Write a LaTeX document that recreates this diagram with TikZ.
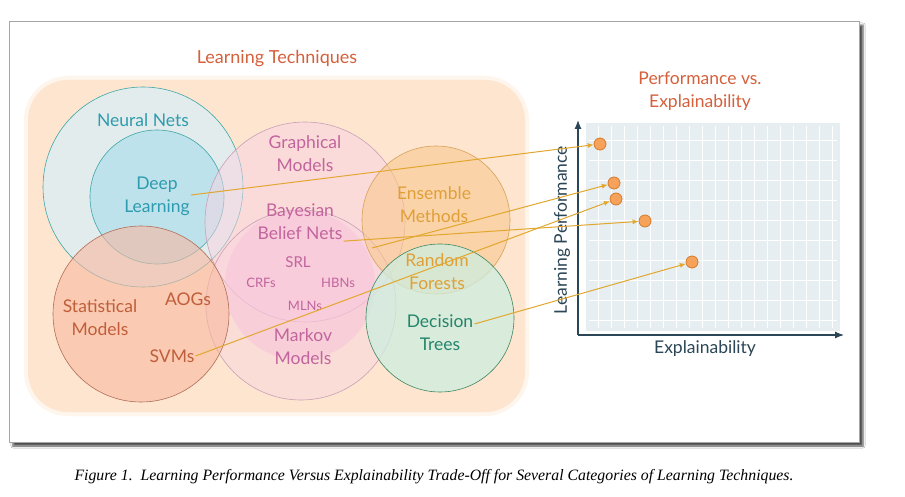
\documentclass[tikz,border=0pt]{standalone}
\usepackage{fontspec}
\setmainfont{Lato}
\newfontfamily\capfont{Liberation Serif}
\usepackage{tikz}
\usetikzlibrary{positioning,arrows.meta,shadows.blur}

\definecolor{peach}{HTML}{FDE5CF}
\definecolor{nnfill}{HTML}{DCEEF4}
\definecolor{nnedge}{HTML}{3FA6A8}
\definecolor{dlfill}{HTML}{AEDFEB}
\definecolor{nntext}{HTML}{2E9BAE}
\definecolor{gmfill}{HTML}{FAD3E4}
\definecolor{gmblob}{HTML}{F6BFDA}
\definecolor{gmedge}{HTML}{C9A0B6}
\definecolor{gmtext}{HTML}{C2649E}
\definecolor{smfill}{HTML}{F8B8A0}
\definecolor{smedge}{HTML}{B06E58}
\definecolor{smtext}{HTML}{C05E3A}
\definecolor{emfill}{HTML}{F9C88E}
\definecolor{emedge}{HTML}{D6A15A}
\definecolor{emtext}{HTML}{E0A038}
\definecolor{dtfill}{HTML}{CDEEE0}
\definecolor{dtedge}{HTML}{3E8660}
\definecolor{dttext}{HTML}{23866C}
\definecolor{titlered}{HTML}{D5603C}
\definecolor{axisblue}{HTML}{2B4656}
\definecolor{gridfill}{HTML}{E6EEF2}
\definecolor{linkgold}{HTML}{E2A72E}
\definecolor{dotfill}{HTML}{F6A25A}
\definecolor{dotedge}{HTML}{D47A2C}

\begin{document}
\begin{tikzpicture}[
  x=1pt, y=-1pt,
  set/.style={
    circle, draw, line width=0.6pt, inner sep=0pt, fill opacity=0.6
  },
  lab/.style={
    font=\fontsize{17.5}{23}\selectfont, align=center, inner sep=1pt
  },
  small/.style={font=\fontsize{13}{15}\selectfont, inner sep=1pt},
  dot/.style={
    circle, draw=dotedge, fill=dotfill, line width=0.8pt,
    minimum size=12pt, inner sep=0pt
  },
  link/.style={-{Latex[length=6pt,width=5pt]}, draw=linkgold, line width=1pt},
  axis/.style={-{Latex[length=9pt,width=7pt]}, draw=axisblue, line width=1.2pt}
]
\useasboundingbox (0,0) rectangle (905,497);
\fill[white] (0,0) rectangle (905,497);

% Frame
\filldraw[fill=white, draw=gray!70, line width=0.8pt,
  blur shadow={shadow xshift=4pt, shadow yshift=-4pt, shadow opacity=70}]
  (9,21) rectangle (859,442);

% Learning techniques
\fill[peach!40, rounded corners=44pt] (24,76) rectangle (529,416);
\fill[peach, rounded corners=40pt] (28,80) rectangle (525,412);
\node[font=\fontsize{18}{20}\selectfont, text=titlered] (lt) at (277,59) {Learning Techniques};

\node[set, fill=nnfill, draw=nnedge, fill opacity=0.8, minimum size=200pt] (nnc) at (143,187) {};
\node[set, fill=dlfill, draw=nnedge, fill opacity=0.7, minimum size=134pt] (dlc) at (157,197) {};
\node[set, fill=gmfill, draw=gmedge, fill opacity=0.5, minimum size=200pt] (gmc) at (305,222) {};
\node[set, fill=gmfill, draw=gmedge, fill opacity=0.4, minimum size=190pt] (mmc) at (301,305) {};
\node[circle, fill=gmblob, fill opacity=0.45, minimum size=150pt] (blob) at (300,285) {};
\node[set, fill=smfill, draw=smedge, minimum size=176pt] (smc) at (141,314) {};
\node[set, fill=emfill, draw=emedge, minimum size=148pt] (emc) at (436,220) {};
\node[set, fill=dtfill, draw=dtedge, fill opacity=0.75, minimum size=148pt] (dtc) at (440,318) {};

\node[lab, text=nntext] (nn) at (143,120) {Neural Nets};
\node[lab, text=nntext] (dl) at (157,196) {Deep\\Learning};
\node[lab, text=gmtext] (gm) at (305,154) {Graphical\\Models};
\node[lab, text=gmtext] (bbn) at (300,222) {Bayesian\\Belief Nets};
\node[lab, text=gmtext, font=\fontsize{15}{17}\selectfont] (srl) at (298,262) {SRL};
\node[small, text=gmtext] (crf) at (261,283) {CRFs};
\node[small, text=gmtext] (hbn) at (338,283) {HBNs};
\node[small, text=gmtext] (mln) at (305,306) {MLNs};
\node[lab, text=gmtext] (mm) at (303,347) {Markov\\Models};
\node[lab, text=smtext] (sm) at (100,318) {Statistical\\Models};
\node[lab, text=smtext] (aog) at (188,299) {AOGs};
\node[lab, text=smtext] (svm) at (172,356) {SVMs};
\node[lab, text=emtext] (em) at (434,205) {Ensemble\\Methods};
\node[lab, text=emtext] (rf) at (437,272) {Random\\Forests};
\node[lab, text=dttext] (dt) at (440,333) {Decision\\Trees};
\coordinate (emfoot) at (372,248);

% Chart
\fill[gridfill] (586,123) rectangle (840,331);
\foreach \x in {598,611,...,836}
  \draw[white, line width=0.6pt] (\x,126) -- (\x,328);
\foreach \y in {140,160,...,320}
  \draw[white, line width=0.6pt] (589,\y) -- (837,\y);
\node[lab, text=titlered] (pvx) at (700,91) {Performance vs.\\Explainability};
\coordinate (org) at (578,335);
\coordinate (ytop) at (578,120);
\coordinate (xend) at (844,335);
\draw[axis] (org) -- (ytop);
\draw[axis] (org) -- (xend);
\node[lab, text=axisblue, rotate=90] (ylab) at (562,230) {Learning Performance};
\node[lab, text=axisblue] (xlab) at (705,349) {Explainability};

\node[dot] (p1) at (600,144) {};
\node[dot] (p2) at (614,183) {};
\node[dot] (p3) at (616,199) {};
\node[dot] (p4) at (645,221) {};
\node[dot] (p5) at (692,262) {};

\draw[link] ([yshift=1pt]dl.east) -- (p1);
\draw[link] (emfoot) -- (p2);
\draw[link] (svm.east) -- (p3);
\draw[link] (bbn.south east) -- (p4);
\draw[link] ([yshift=9pt]dt.east) -- (p5);

% Caption
\node[font=\capfont\itshape\fontsize{15.8}{18}\selectfont] (cap) at (434,477)
  {Figure 1.\ \ Learning Performance Versus Explainability Trade-Off for Several Categories of Learning Techniques.};
\end{tikzpicture}
\end{document}
